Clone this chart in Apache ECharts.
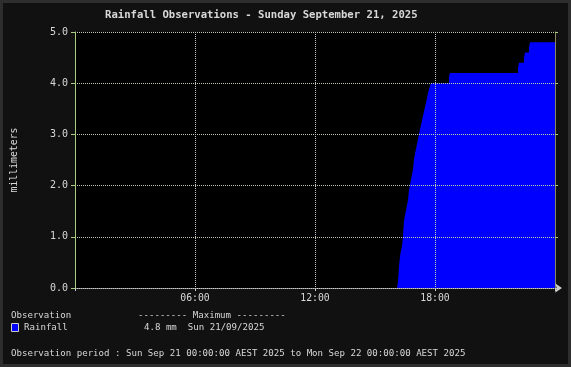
<!DOCTYPE html>
<html>
<head>
<meta charset="utf-8">
<script src="https://cdn.jsdelivr.net/npm/echarts@6/dist/echarts.min.js"></script>
<style>
html,body{margin:0;padding:0;background:#111;}
#chart{width:571px;height:367px;}
</style>
</head>
<body>
<div id="chart"></div>
<script>
// ---- data ----
const obsTimes = ["00:00","16:06","16:09","16:12","16:15","16:18","16:21","16:24","16:27","16:30","16:33","16:36",
  "16:39","16:42","16:45","16:48","16:51","16:54","16:57","17:00","17:03","17:06","17:09","17:12","17:15","17:18",
  "17:21","17:24","17:27","17:30","17:33","17:36","17:39","17:42","17:45","17:48","18:42","18:45","22:09","22:12",
  "22:27","22:30","22:42","22:45","24:00"];
const rainMm = [0,0,0.12,0.42,0.62,0.73,0.82,1.02,1.31,1.42,1.52,1.62,
  1.72,1.91,2.01,2.12,2.22,2.32,2.51,2.62,2.72,2.81,2.91,3.01,3.10,3.18,
  3.27,3.36,3.45,3.53,3.62,3.71,3.80,3.88,3.95,4.00,4.13,4.20,4.30,4.40,
  4.50,4.60,4.70,4.80,4.80];
const xTickLabels = ["", "06:00", "12:00", "18:00", ""];
const titleText = "Rainfall Observations - Sunday September 21, 2025";
const seriesName = "Rainfall";
const maxText = "4.8 mm  Sun 21/09/2025";
const periodText = "Observation period : Sun Sep 21 00:00:00 AEST 2025 to Mon Sep 22 00:00:00 AEST 2025";

function toHours(t){ const p = t.split(":"); return (+p[0]) + (+p[1])/60; }
const seriesData = obsTimes.map((t,i)=>[toHours(t), rainMm[i]]);

const MONO = "'DejaVu Sans Mono', monospace";
const TXT = '#d8d8d8';
const chart = echarts.init(document.getElementById('chart'), null, {renderer:'canvas'});
chart.setOption({
  backgroundColor: '#111111',
  animation: false,
  grid: {left: 75, top: 32, width: 480, height: 256, show: true, backgroundColor: '#000000', borderWidth: 0},
  xAxis: {
    type: 'value', min: 0, max: 24, interval: 6, z: 3,
    axisLine: {show: true, lineStyle: {color: '#cccccc', type: [1,1], width: 1},
      symbol: ['none','arrow'], symbolSize: [7,7], symbolOffset: [0,7]},
    axisTick: {show: true, length: 3, lineStyle: {color: '#cccccc'}},
    axisLabel: {color: TXT, fontFamily: MONO, fontSize: 9.8, margin: 5,
      formatter: v => xTickLabels[Math.round(v/6)] || ''},
    splitLine: {show: true, lineStyle: {color: '#c8ccc0', type: [1,1], width: 1}}
  },
  yAxis: [{
    type: 'value', min: 0, max: 5, interval: 1, z: 3,
    name: 'millimeters', nameLocation: 'middle', nameRotate: 90, nameGap: 56,
    nameTextStyle: {color: TXT, fontFamily: MONO, fontSize: 9.8},
    axisLine: {show: true, lineStyle: {color: '#a8cc80', width: 1}},
    axisTick: {show: true, length: 4, lineStyle: {color: '#a8cc80'}},
    axisLabel: {color: TXT, fontFamily: MONO, fontSize: 10, margin: 7,
      formatter: v => v.toFixed(1)},
    splitLine: {show: true, lineStyle: {color: '#c0ccb0', type: [1,1], width: 1}}
  },{
    type: 'value', min: 0, max: 5, interval: 1, position: 'right', z: 3,
    axisLine: {show: true, lineStyle: {color: '#888860', width: 1}},
    axisTick: {show: true, length: 3, lineStyle: {color: '#a8cc80'}},
    axisLabel: {show: false},
    splitLine: {show: false}
  }],
  series: [{
    name: seriesName, type: 'line', step: 'end', data: seriesData,
    showSymbol: false, symbol: 'none',
    lineStyle: {width: 0, opacity: 0},
    areaStyle: {color: '#0000ff', opacity: 1},
    z: 2
  }],
  graphic: [
    {type: 'rect', shape: {x: 1.5, y: 1.5, width: 568, height: 364},
      style: {fill: 'none', stroke: '#2e2e2e', lineWidth: 3}, silent: true},
    {type: 'text', left: 105, top: 10, style: {text: titleText, fill: TXT, font: "bold 10.6px " + MONO}},
    {type: 'text', left: 11, top: 311, style: {text: 'Observation', fill: TXT, font: "9.1px " + MONO}},
    {type: 'text', left: 138, top: 311, style: {text: '--------- Maximum ---------', fill: TXT, font: "9.1px " + MONO}},
    {type: 'rect', shape: {x: 11.5, y: 323.5, width: 7, height: 8},
      style: {fill: '#0000ff', stroke: '#cccccc', lineWidth: 1}},
    {type: 'text', left: 24, top: 323, style: {text: seriesName, fill: TXT, font: "9.1px " + MONO}},
    {type: 'text', left: 144, top: 323, style: {text: maxText, fill: TXT, font: "9.1px " + MONO}},
    {type: 'text', left: 11, top: 349, style: {text: periodText, fill: TXT, font: "9.1px " + MONO}}
  ]
});
</script>
</body>
</html>
